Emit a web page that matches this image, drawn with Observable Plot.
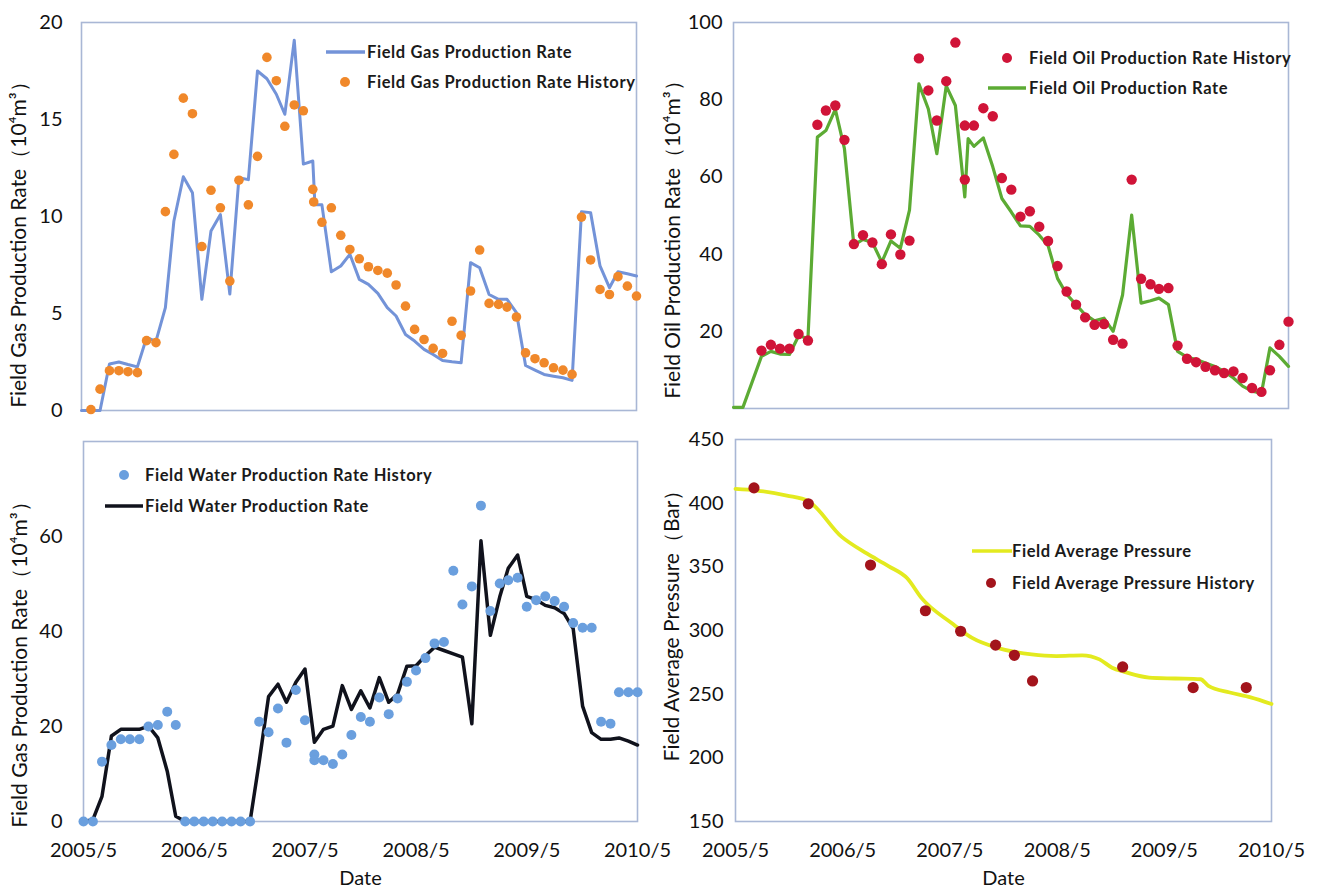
<!DOCTYPE html>
<html>
<head>
<meta charset="utf-8">
<script src="https://cdn.jsdelivr.net/npm/d3@7"></script>
<script src="https://cdn.jsdelivr.net/npm/@observablehq/plot@0.6"></script>
<style>
  body { margin: 0; background: #fff; }
  #chart { position: relative; width: 1320px; height: 891px; overflow: hidden; background: #fff; }
  .panel { position: absolute; }
  .legend-row {
    position: absolute; height: 20px; display: flex; align-items: center; white-space: nowrap;
    font-family: Lato, sans-serif; font-weight: 700; font-size: 16.5px; letter-spacing: 0.6px; color: #1a1a1a;
  }
  .legend-row svg { flex: none; }
</style>
</head>
<body>
<div id="chart"></div>
<script>
// ---- axis ticks -------------------------------------------------------
const xDomain = ["2005-05", "2010-05"];
const yearTicks = ["2005-05", "2006-05", "2007-05", "2008-05", "2009-05", "2010-05"];
const gasTicks = [0, 5, 10, 15, 20];
const oilTicks = [20, 40, 60, 80, 100];
const waterTicks = [0, 20, 40, 60];
const pressureTicks = [150, 200, 250, 300, 350, 400, 450];

// ---- field gas production rate (10^4 m3) -----------------------------
const gasSimulated = [
  ["2005-05", 0], ["2005-06", 0], ["2005-07", 0], ["2005-08", 2.4], ["2005-09", 2.5], ["2005-10", 2.37],
  ["2005-11", 2.25], ["2005-12", 3.75], ["2006-01", 3.58], ["2006-02", 5.3], ["2006-03", 9.77], ["2006-04", 12.05],
  ["2006-05", 11.23], ["2006-06", 5.73], ["2006-07", 9.25], ["2006-08", 10.1], ["2006-09", 6.0], ["2006-10", 12.0],
  ["2006-11", 11.9], ["2006-12", 17.5], ["2007-01", 17.1], ["2007-02", 16.3], ["2007-03", 15.27], ["2007-04", 19.09],
  ["2007-05", 12.7], ["2007-06", 12.86], ["2007-06-08", 10.6], ["2007-07", 10.6], ["2007-08", 7.15], ["2007-09", 7.45],
  ["2007-10", 8.05], ["2007-11", 6.76], ["2007-12", 6.5], ["2008-01", 6.04], ["2008-02", 5.3], ["2008-03", 4.87],
  ["2008-04", 3.92], ["2008-05", 3.58], ["2008-06", 3.15], ["2008-07", 2.89], ["2008-08", 2.58], ["2008-09", 2.51],
  ["2008-10", 2.46], ["2008-11", 7.62], ["2008-12", 7.36], ["2009-01", 5.98], ["2009-02", 5.73], ["2009-03", 5.73],
  ["2009-04", 5.04], ["2009-05", 2.32], ["2009-06", 2.08], ["2009-07", 1.86], ["2009-08", 1.77], ["2009-09", 1.69],
  ["2009-10", 1.55], ["2009-11", 10.25], ["2009-12", 10.2], ["2010-01", 7.45], ["2010-02", 6.33], ["2010-03", 7.15],
  ["2010-04", 7.05], ["2010-05", 6.93]
];
const gasHistory = [
  ["2005-06", 0.05], ["2005-07", 1.1], ["2005-08", 2.05], ["2005-09", 2.05], ["2005-10", 2.0], ["2005-11", 1.95],
  ["2005-12", 3.6], ["2006-01", 3.5], ["2006-02", 10.25], ["2006-03", 13.2], ["2006-04", 16.1], ["2006-05", 15.3],
  ["2006-06", 8.45], ["2006-07", 11.35], ["2006-08", 10.45], ["2006-09", 6.67], ["2006-10", 11.87], ["2006-11", 10.6],
  ["2006-12", 13.1], ["2007-01", 18.2], ["2007-02", 17.0], ["2007-03", 14.65], ["2007-04", 15.75], ["2007-05", 15.45],
  ["2007-06", 11.4], ["2007-06-04", 10.75], ["2007-07", 9.7], ["2007-08", 10.45], ["2007-09", 9.03], ["2007-10", 8.3],
  ["2007-11", 7.82], ["2007-12", 7.41], ["2008-01", 7.22], ["2008-02", 7.08], ["2008-03", 6.47], ["2008-04", 5.38],
  ["2008-05", 4.18], ["2008-06", 3.66], ["2008-07", 3.2], ["2008-08", 2.94], ["2008-09", 4.6], ["2008-10", 3.87],
  ["2008-11", 6.16], ["2008-12", 8.27], ["2009-01", 5.52], ["2009-02", 5.47], ["2009-03", 5.33], ["2009-04", 4.82],
  ["2009-05", 2.97], ["2009-06", 2.67], ["2009-07", 2.46], ["2009-08", 2.2], ["2009-09", 2.08], ["2009-10", 1.86],
  ["2009-11", 9.97], ["2009-12", 7.76], ["2010-01", 6.24], ["2010-02", 5.98], ["2010-03", 6.9], ["2010-04", 6.41],
  ["2010-05", 5.9]
];

// ---- field oil production rate (10^4 m3) -----------------------------
const oilSimulated = [
  ["2005-05", 0.3], ["2005-06", 0.3], ["2005-08", 13.5], ["2005-09", 14.8], ["2005-10", 14.1], ["2005-11", 14.0],
  ["2005-12", 18.8], ["2006-01", 18.2], ["2006-02", 70.3], ["2006-03", 72.0], ["2006-04", 77.5], ["2006-05", 67.3],
  ["2006-06", 42.3], ["2006-07", 43.8], ["2006-08", 43.0], ["2006-09", 37.9], ["2006-10", 43.4], ["2006-11", 41.5],
  ["2006-12", 51.4], ["2007-01", 84.1], ["2007-02", 77.6], ["2007-03", 66.0], ["2007-04", 83.6], ["2007-05", 78.5],
  ["2007-06", 54.8], ["2007-06-12", 69.9], ["2007-07", 67.9], ["2007-08", 70.1], ["2007-09", 62.6], ["2007-10", 54.4],
  ["2007-11", 50.9], ["2007-12", 47.3], ["2008-01", 47.2], ["2008-02", 44.9], ["2008-03", 42.2], ["2008-04", 33.7],
  ["2008-05", 29.6], ["2008-06", 26.9], ["2008-07", 24.3], ["2008-08", 22.7], ["2008-09", 23.4], ["2008-10", 20.0],
  ["2008-11", 29.4], ["2008-12", 50.1], ["2009-01", 27.3], ["2009-02", 27.9], ["2009-03", 28.6], ["2009-04", 26.9],
  ["2009-05", 14.8], ["2009-06", 13.3], ["2009-07", 12.7], ["2009-08", 11.8], ["2009-09", 10.9], ["2009-10", 9.6],
  ["2009-11", 7.9], ["2009-12", 5.8], ["2010-01", 4.5], ["2010-02", 4.0], ["2010-03", 15.7], ["2010-04", 13.5],
  ["2010-05", 10.9]
];
const oilHistory = [
  ["2005-08", 15.0], ["2005-09", 16.5], ["2005-10", 15.5], ["2005-11", 15.5], ["2005-12", 19.3], ["2006-01", 17.6],
  ["2006-02", 73.5], ["2006-03", 77.2], ["2006-04", 78.5], ["2006-05", 69.6], ["2006-06", 42.6], ["2006-07", 44.9],
  ["2006-08", 43.0], ["2006-09", 37.4], ["2006-10", 45.1], ["2006-11", 39.9], ["2006-12", 43.5], ["2007-01", 90.7],
  ["2007-02", 82.4], ["2007-03", 74.6], ["2007-04", 84.8], ["2007-05", 94.8], ["2007-06", 73.3], ["2007-06", 59.3],
  ["2007-07", 73.3], ["2007-08", 77.8], ["2007-09", 75.7], ["2007-10", 59.7], ["2007-11", 56.7], ["2007-12", 49.7],
  ["2008-01", 51.1], ["2008-02", 47.1], ["2008-03", 43.4], ["2008-04", 36.9], ["2008-05", 30.3], ["2008-06", 26.9],
  ["2008-07", 23.6], ["2008-08", 21.7], ["2008-09", 21.9], ["2008-10", 17.8], ["2008-11", 16.8], ["2008-12", 59.3],
  ["2009-01", 33.6], ["2009-02", 32.2], ["2009-03", 31.0], ["2009-04", 31.2], ["2009-05", 16.3], ["2009-06", 12.9],
  ["2009-07", 12.0], ["2009-08", 10.8], ["2009-09", 9.9], ["2009-10", 9.2], ["2009-11", 9.6], ["2009-12", 7.9],
  ["2010-01", 5.3], ["2010-02", 4.3], ["2010-03", 9.9], ["2010-04", 16.5], ["2010-05", 22.5]
];

// ---- field water production rate (10^4 m3) ---------------------------
const waterSimulated = [
  ["2005-05", 0], ["2005-06", 0.4], ["2005-07", 5.3], ["2005-08", 18.0], ["2005-09", 19.4], ["2005-10", 19.4],
  ["2005-11", 19.4], ["2005-12", 20.1], ["2006-01", 17.6], ["2006-02", 10.6], ["2006-03", 1.1], ["2006-04", 0],
  ["2006-11", 0], ["2006-12", 12.5], ["2007-01", 26.3], ["2007-02", 28.9], ["2007-03", 25.1], ["2007-04", 29.3],
  ["2007-05", 32.1], ["2007-06", 16.7], ["2007-07", 19.4], ["2007-08", 20.1], ["2007-09", 28.6], ["2007-10", 23.6],
  ["2007-11", 27.5], ["2007-12", 23.9], ["2008-01", 30.3], ["2008-02", 25.1], ["2008-03", 26.8], ["2008-04", 32.7],
  ["2008-05", 32.8], ["2008-06", 34.9], ["2008-07", 36.7], ["2008-08", 36.0], ["2008-09", 35.3], ["2008-10", 34.6],
  ["2008-11", 20.6], ["2008-12", 59.1], ["2009-01", 39.2], ["2009-02", 47.3], ["2009-03", 53.3], ["2009-04", 56.1],
  ["2009-05", 47.4], ["2009-06", 46.7], ["2009-07", 45.5], ["2009-08", 45.0], ["2009-09", 43.8], ["2009-10", 40.6],
  ["2009-11", 24.3], ["2009-12", 18.7], ["2010-01", 17.3], ["2010-02", 17.3], ["2010-03", 17.6], ["2010-04", 16.9],
  ["2010-05", 16.1]
];
const waterHistory = [
  ["2005-05", 0], ["2005-06", 0], ["2005-07", 12.6], ["2005-08", 16.1], ["2005-09", 17.3], ["2005-10", 17.3],
  ["2005-11", 17.3], ["2005-12", 20.0], ["2006-01", 20.3], ["2006-02", 23.1], ["2006-03", 20.3], ["2006-04", 0],
  ["2006-05", 0], ["2006-06", 0], ["2006-07", 0], ["2006-08", 0], ["2006-09", 0], ["2006-10", 0], ["2006-11", 0],
  ["2006-12", 21.0], ["2007-01", 18.8], ["2007-02", 23.8], ["2007-03", 16.6], ["2007-04", 27.7], ["2007-05", 21.3],
  ["2007-06", 14.1], ["2007-06", 12.9], ["2007-07", 12.9], ["2007-08", 12.1], ["2007-09", 14.1], ["2007-10", 18.2],
  ["2007-11", 22.0], ["2007-12", 21.0], ["2008-01", 26.1], ["2008-02", 22.6], ["2008-03", 25.9], ["2008-04", 29.4],
  ["2008-05", 31.8], ["2008-06", 34.4], ["2008-07", 37.5], ["2008-08", 37.8], ["2008-09", 52.8], ["2008-10", 45.7],
  ["2008-11", 49.5], ["2008-12", 66.5], ["2009-01", 44.3], ["2009-02", 50.1], ["2009-03", 50.8], ["2009-04", 51.3],
  ["2009-05", 45.2], ["2009-06", 46.6], ["2009-07", 47.4], ["2009-08", 46.4], ["2009-09", 45.2], ["2009-10", 41.8],
  ["2009-11", 40.8], ["2009-12", 40.8], ["2010-01", 21.0], ["2010-02", 20.6], ["2010-03", 27.2], ["2010-04", 27.2],
  ["2010-05", 27.2]
];

// ---- field average pressure (bar) ------------------------------------
const pressureSimulated = [
  ["2005-05-01", 411.2], ["2005-07-14", 409.9], ["2005-10-23", 406.0], ["2006-01-04", 401.6], ["2006-04-28", 373.5],
  ["2006-07-22", 360.5], ["2006-10-04", 350.6], ["2006-12-07", 341.0], ["2007-01-25", 325.4], ["2007-05-07", 305.9],
  ["2007-07-16", 294.2], ["2007-10-10", 286.4], ["2008-02-04", 281.2], ["2008-04-28", 279.9], ["2008-07-25", 280.5],
  ["2008-09-22", 277.3], ["2008-11-04", 270.8], ["2008-12-16", 267.5], ["2009-03-10", 263.0], ["2009-06-07", 262.3],
  ["2009-09-01", 261.7], ["2009-09-28", 256.5], ["2009-12-10", 251.3], ["2010-02-19", 247.5], ["2010-05-01", 242.3]
];
const pressureHistory = [
  ["2005-07-03", 412.0], ["2006-01-04", 399.5], ["2006-08-04", 351.4], ["2007-02-07", 315.5], ["2007-06-07", 299.4],
  ["2007-10-04", 288.5], ["2007-12-07", 280.5], ["2008-02-07", 260.4], ["2008-12-10", 271.4], ["2009-08-07", 255.2],
  ["2010-02-04", 255.2]
];

// ---- helpers ----------------------------------------------------------
const parseMonth = d3.utcParse("%Y-%m");
const parseDay = d3.utcParse("%Y-%m-%d");
const toDate = (s) => (s.length > 7 ? parseDay(s) : parseMonth(s));
const rows = (pairs) => pairs.map(([d, v]) => ({date: toDate(d), value: v}));

const chart = document.getElementById("chart");
const frameColor = "#a9b7d5";

function panel({left, top, width, height, margin, yDomain, yTicks, tickPadding, showX, title, titleDx, titleDy, marks}) {
  const [mt, mr, mb, ml] = margin;
  const plot = Plot.plot({
    width, height,
    marginTop: mt, marginRight: mr, marginBottom: mb, marginLeft: ml,
    style: {fontFamily: "Lato, sans-serif", fontSize: "20px", color: "#111", background: "transparent", overflow: "visible"},
    x: {
      type: "utc", domain: xDomain.map(toDate),
      axis: showX ? "bottom" : null,
      ticks: yearTicks.map(toDate), tickFormat: d3.utcFormat("%Y/%-m"),
      tickSize: 0, tickPadding: 21, label: null
    },
    y: {domain: yDomain, ticks: yTicks, tickSize: 0, tickPadding, label: null},
    marks: [
      Plot.frame({stroke: frameColor, strokeWidth: 1.6}),
      ...marks,
      Plot.text([title], {
        frameAnchor: "left", textAnchor: "middle", rotate: -90,
        dx: titleDx, dy: titleDy, fontSize: 21, fill: "#111"
      }),
      ...(showX ? [Plot.text(["Date"], {frameAnchor: "bottom", textAnchor: "middle", dy: 63, fontSize: 20, fill: "#111"})] : [])
    ]
  });
  const div = document.createElement("div");
  div.className = "panel";
  div.style.left = left + "px";
  div.style.top = top + "px";
  div.appendChild(plot);
  chart.appendChild(div);
}

function legendRow({left, y, kind, color, label, swatch = 39, gap = 2}) {
  const row = document.createElement("div");
  row.className = "legend-row";
  row.style.left = left + "px";
  row.style.top = (y - 10) + "px";
  const ns = "http://www.w3.org/2000/svg";
  const svg = document.createElementNS(ns, "svg");
  svg.setAttribute("width", swatch);
  svg.setAttribute("height", 20);
  if (kind === "line") {
    const l = document.createElementNS(ns, "line");
    l.setAttribute("x1", 0); l.setAttribute("x2", swatch);
    l.setAttribute("y1", 10); l.setAttribute("y2", 10);
    l.setAttribute("stroke", color); l.setAttribute("stroke-width", 3.5);
    svg.appendChild(l);
  } else {
    const c = document.createElementNS(ns, "circle");
    c.setAttribute("cx", 19); c.setAttribute("cy", 10); c.setAttribute("r", 5);
    c.setAttribute("fill", color);
    svg.appendChild(c);
  }
  const span = document.createElement("span");
  span.textContent = label;
  span.style.marginLeft = gap + "px";
  row.appendChild(svg);
  row.appendChild(span);
  chart.appendChild(row);
}

// ---- colours ------------------------------------------------------------
const C = {
  gasLine: "#7393d8", gasDot: "#f0882a",
  oilLine: "#5cab34", oilDot: "#d01438",
  waterLine: "#10121c", waterDot: "#6a9fde",
  presLine: "#e3ea1f", presDot: "#a3141c"
};

// ---- top left: gas ------------------------------------------------------
panel({
  left: 0, top: 0, width: 660, height: 430, margin: [22, 24, 20, 81],
  yDomain: [0, 20], yTicks: gasTicks, tickPadding: 19, showX: false,
  title: "Field Gas Production Rate（10⁴m³）", titleDx: -62, titleDy: 23,
  marks: [
    Plot.lineY(rows(gasSimulated), {x: "date", y: "value", stroke: C.gasLine, strokeWidth: 3}),
    Plot.dot(rows(gasHistory), {x: "date", y: "value", r: 4.8, fill: C.gasDot})
  ]
});
legendRow({left: 326, y: 52, kind: "line", color: C.gasLine, label: "Field Gas Production Rate"});
legendRow({left: 326, y: 82, kind: "dot", color: C.gasDot, label: "Field Gas Production Rate History"});

// ---- top right: oil -----------------------------------------------------
panel({
  left: 660, top: 0, width: 660, height: 430, margin: [22, 32, 22, 73],
  yDomain: [0, 100], yTicks: oilTicks, tickPadding: 11, showX: false,
  title: "Field Oil Production Rate（10⁴m³）", titleDx: -60, titleDy: 19,
  marks: [
    Plot.lineY(rows(oilSimulated), {x: "date", y: "value", stroke: C.oilLine, strokeWidth: 3.2}),
    Plot.dot(rows(oilHistory), {x: "date", y: "value", r: 5.2, fill: C.oilDot})
  ]
});
legendRow({left: 988, y: 58, kind: "dot", color: C.oilDot, label: "Field Oil Production Rate History", swatch: 38, gap: 3});
legendRow({left: 988, y: 88, kind: "line", color: C.oilLine, label: "Field Oil Production Rate", swatch: 38, gap: 3});

// ---- bottom left: water ------------------------------------------------
panel({
  left: 0, top: 430, width: 660, height: 461, margin: [11, 23, 70, 83],
  yDomain: [0, 80], yTicks: waterTicks, tickPadding: 21, showX: true,
  title: "Field Gas Production Rate（10⁴m³）", titleDx: -63, titleDy: 28,
  marks: [
    Plot.lineY(rows(waterSimulated), {x: "date", y: "value", stroke: C.waterLine, strokeWidth: 3.5}),
    Plot.dot(rows(waterHistory), {x: "date", y: "value", r: 5, fill: C.waterDot})
  ]
});
legendRow({left: 105, y: 475, kind: "dot", color: C.waterDot, label: "Field Water Production Rate History", swatch: 38});
legendRow({left: 105, y: 506, kind: "line", color: C.waterLine, label: "Field Water Production Rate", swatch: 38});

// ---- bottom right: pressure ---------------------------------------------
panel({
  left: 660, top: 430, width: 660, height: 461, margin: [9, 49, 70, 75],
  yDomain: [150, 450], yTicks: pressureTicks, tickPadding: 12, showX: true,
  title: "Field Average Pressure（Bar）", titleDx: -63, titleDy: -10,
  marks: [
    Plot.lineY(rows(pressureSimulated), {x: "date", y: "value", stroke: C.presLine, strokeWidth: 3.8, curve: "monotone-x"}),
    Plot.dot(rows(pressureHistory), {x: "date", y: "value", r: 5.6, fill: C.presDot})
  ]
});
legendRow({left: 972, y: 551, kind: "line", color: C.presLine, label: "Field Average Pressure", swatch: 40, gap: 0});
legendRow({left: 972, y: 583, kind: "dot", color: C.presDot, label: "Field Average Pressure History", swatch: 40, gap: 0});
</script>
</body>
</html>
